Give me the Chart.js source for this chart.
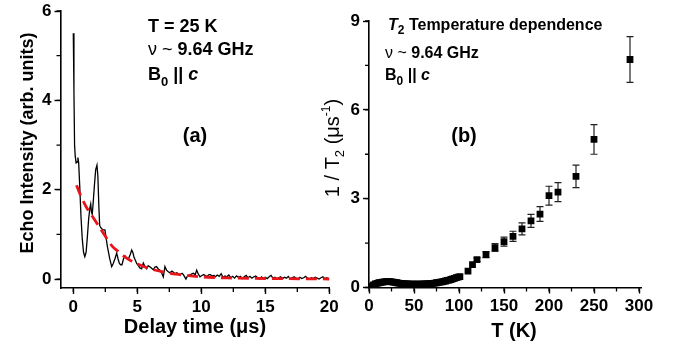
<!DOCTYPE html>
<html>
<head>
<meta charset="utf-8">
<script src="https://cdn.jsdelivr.net/npm/chart.js@4"></script>
<style>
  body { margin: 0; background: #fff; }
  #wrap { position: relative; width: 673px; height: 348px; background: #fff; overflow: hidden; }
  canvas { position: absolute; top: 0; }
</style>
</head>
<body>
<div id="wrap">
  <canvas id="chartA" width="340" height="348" style="left:0"></canvas>
  <canvas id="chartB" width="353" height="348" style="left:320px"></canvas>
</div>
<script>
// panel (a): echo decay at 25 K
const delayTime = [
  0.00, 0.05, 0.10, 0.15, 0.22, 0.30, 0.36, 0.42, 0.50, 0.60, 0.70, 0.80, 0.90, 1.00, 1.10, 1.20,
  1.30, 1.36, 1.42, 1.48, 1.55, 1.65, 1.75, 1.85, 1.92, 2.00, 2.06, 2.15, 2.25, 2.35, 2.47, 2.55,
  2.65, 2.75, 2.85, 3.00, 3.12, 3.26, 3.39, 3.50, 3.60, 3.70, 3.80, 3.92, 4.04, 4.17, 4.30, 4.45,
  4.56, 4.65, 4.75, 4.85, 4.95, 5.08, 5.20, 5.34, 5.47, 5.60, 5.73, 5.85, 6.00, 6.12, 6.25, 6.38,
  6.50, 6.65, 6.77, 6.90, 7.03, 7.16, 7.28, 7.40, 7.55, 7.70, 7.80, 7.95, 8.10, 8.20, 8.35, 8.50,
  8.60, 8.70, 8.80, 8.90, 9.00, 9.15, 9.30, 9.40, 9.52, 9.64, 9.75, 9.90, 10.05, 10.20, 10.30, 10.45,
  10.60, 10.70, 10.85, 11.00, 11.10, 11.25, 11.40, 11.55, 11.70, 11.85, 12.00, 12.15, 12.30, 12.45,
  12.60, 12.75, 12.90, 13.05, 13.20, 13.35, 13.50, 13.65, 13.80, 13.95, 14.10, 14.25, 14.40, 14.55,
  14.70, 14.85, 15.00, 15.15, 15.30, 15.45, 15.60, 15.75, 15.90, 16.05, 16.20, 16.35, 16.50, 16.65,
  16.80, 16.95, 17.10, 17.25, 17.40, 17.55, 17.70, 17.85, 18.00, 18.15, 18.30, 18.45, 18.60, 18.75,
  18.90, 19.05, 19.20, 19.35, 19.50, 19.65, 19.80, 19.95, 20.00
];
const echoSignal = [
  5.50, 4.20, 3.00, 2.75, 2.60, 2.62, 2.72, 2.60, 2.10, 1.40, 0.90, 0.60, 0.50, 0.60, 0.95, 1.35,
  1.60, 1.68, 1.50, 1.45, 1.70, 2.10, 2.45, 2.55, 2.30, 1.60, 1.20, 1.15, 1.12, 1.10, 1.10, 0.95,
  0.75, 0.60, 0.45, 0.28, 0.35, 0.46, 0.58, 0.45, 0.35, 0.32, 0.32, 0.45, 0.52, 0.46, 0.45, 0.55,
  0.65, 0.60, 0.48, 0.42, 0.35, 0.30, 0.25, 0.23, 0.36, 0.28, 0.23, 0.30, 0.27, 0.24, 0.21, 0.27,
  0.28, 0.22, 0.20, 0.14, 0.05, 0.28, 0.20, 0.17, 0.14, 0.18, 0.16, 0.12, 0.14, 0.12, 0.10, 0.13,
  0.10, 0.05, 0.00, 0.06, 0.08, 0.10, 0.12, 0.13, 0.09, 0.20, 0.12, 0.05, 0.08, 0.10, 0.08, 0.06,
  0.10, 0.10, 0.07, 0.08, 0.05, 0.09, 0.06, 0.12, 0.04, 0.07, 0.05, 0.09, 0.03, 0.06,
  0.02, 0.07, 0.04, 0.06, 0.01, 0.05, 0.08, 0.03, 0.06, 0.02, 0.05, 0.07, 0.03, 0.00,
  0.05, 0.02, 0.04, 0.01, 0.05, 0.08, 0.02, 0.04, 0.00, 0.03, 0.05, 0.01, 0.04, 0.02,
  0.06, 0.00, 0.03, 0.05, 0.02, 0.00, 0.04, 0.01, 0.03, 0.06, 0.02, 0.00, 0.03, 0.01,
  0.04, 0.02, 0.00, 0.03, 0.05, 0.01, 0.03, 0.00, 0.02
];
// red dashed fit curve
const fitTime  = [0.25, 0.6, 1.0, 1.5, 2.0, 2.5, 3.0, 3.5, 4.0, 4.5, 5.0, 5.5, 6.0, 7.0, 8.0, 9.0, 10, 11, 12, 14, 16, 18, 20];
const fitValue = [2.10, 1.85, 1.62, 1.40, 1.18, 0.96, 0.75, 0.62, 0.50, 0.41, 0.34, 0.28, 0.23, 0.16, 0.11, 0.075, 0.05, 0.035, 0.025, 0.015, 0.01, 0.005, 0.002];

// panel (b): 1/T2 vs temperature
const tempK = [
  3, 5, 7, 9, 11, 13, 15, 17, 19, 21, 23, 25, 27, 29, 31, 33, 35, 37, 39, 41, 43, 45, 47, 49, 51,
  53, 55, 57, 59, 61, 63, 65, 67, 69, 71, 73, 75, 77, 79, 81, 83, 85, 87, 89, 91, 93, 95, 97, 99, 101,
  110, 115, 120, 130, 140, 150, 160, 170, 180, 190, 200, 210, 230, 250, 290
];
const invT2 = [
  0.05, 0.09, 0.12, 0.14, 0.16, 0.17, 0.18, 0.19, 0.20, 0.20, 0.20, 0.19, 0.18, 0.17, 0.16, 0.15, 0.14, 0.13, 0.13, 0.12, 0.12, 0.11, 0.11, 0.11, 0.11,
  0.11, 0.11, 0.11, 0.11, 0.12, 0.12, 0.12, 0.13, 0.13, 0.14, 0.15, 0.16, 0.17, 0.18, 0.19, 0.21, 0.22, 0.24, 0.25, 0.27, 0.29, 0.31, 0.33, 0.35, 0.37,
  0.55, 0.77, 0.94, 1.11, 1.35, 1.55, 1.73, 1.98, 2.25, 2.48, 3.10, 3.22, 3.75, 5.00, 7.70
];
const invT2Err = [
  0, 0, 0, 0, 0, 0, 0, 0, 0, 0, 0, 0, 0, 0, 0, 0, 0, 0, 0, 0, 0, 0, 0, 0, 0,
  0, 0, 0, 0, 0, 0, 0, 0, 0, 0, 0, 0, 0, 0, 0, 0, 0, 0, 0, 0, 0, 0, 0, 0, 0,
  0, 0, 0.06, 0.10, 0.13, 0.15, 0.17, 0.20, 0.22, 0.25, 0.32, 0.32, 0.38, 0.50, 0.77
];

// tick values
const aXTicks = [0, 5, 10, 15, 20];
const aYTicks = [0, 2, 4, 6];
const bXTicks = [0, 50, 100, 150, 200, 250, 300];
const bYTicks = [0, 3, 6, 9];

const FONT = '"Liberation Sans", Arial, Helvetica, sans-serif';

function pts(xs, ys) {
  return xs.map((x, i) => ({ x: x, y: ys[i] }));
}

// draw a row of text pieces (sub/superscripts) centred at x,y
function drawParts(ctx, x, y, parts, rot, align) {
  ctx.save();
  ctx.translate(x, y);
  if (rot) ctx.rotate(rot);
  ctx.textBaseline = 'alphabetic';
  ctx.fillStyle = '#000';
  let total = 0;
  parts.forEach(p => { ctx.font = p.font; total += ctx.measureText(p.t).width; });
  let cx = align === 'left' ? 0 : -total / 2;
  parts.forEach(p => {
    ctx.font = p.font;
    ctx.fillText(p.t, cx, p.dy || 0);
    cx += ctx.measureText(p.t).width;
  });
  ctx.restore();
}

function minorTicks(chart, xStep, yStep) {
  const ctx = chart.ctx;
  const xs = chart.scales.x, ys = chart.scales.y;
  ctx.save();
  ctx.strokeStyle = '#000';
  ctx.lineWidth = 1.3;
  ctx.beginPath();
  for (let v = Math.ceil(xs.min / xStep) * xStep; v <= xs.max + 1e-9; v += xStep) {
    const px = xs.getPixelForValue(v);
    ctx.moveTo(px, ys.bottom);
    ctx.lineTo(px, ys.bottom + 4);
  }
  for (let v = Math.ceil(ys.min / yStep) * yStep; v <= ys.max + 1e-9; v += yStep) {
    const py = ys.getPixelForValue(v);
    ctx.moveTo(xs.left, py);
    ctx.lineTo(xs.left - 4, py);
  }
  ctx.stroke();
  ctx.restore();
}

function axisOpts(min, max, ticks, fixed, isX) {
  return {
    type: 'linear',
    min: min,
    max: max,
    afterBuildTicks: (axis) => { axis.ticks = ticks.map(v => ({ value: v })); },
    afterFit: (axis) => {
      if (isX) { axis.height = fixed; axis.paddingLeft = 0; axis.paddingRight = 0; }
      else { axis.width = fixed; axis.paddingTop = 0; axis.paddingBottom = 0; }
    },
    grid: { display: true, drawOnChartArea: false, drawTicks: true, tickLength: 6, tickWidth: 1.4, tickColor: '#000' },
    border: { display: true, color: '#000', width: 1.6 },
    ticks: { color: '#000', padding: isX ? 3 : 3, font: { family: FONT, size: 17, weight: 'bold' } }
  };
}

const textA = {
  id: 'textA',
  afterDraw(chart) {
    const ctx = chart.ctx;
    minorTicks(chart, 2.5, 1);
    const b18 = 'bold 18px ' + FONT;
    drawParts(ctx, 27, 143, [{ t: 'Echo Intensity (arb. units)', font: 'bold 18px ' + FONT, dy: 6 }], -Math.PI / 2);
    drawParts(ctx, 195, 333, [{ t: 'Delay time (\u03bcs)', font: 'bold 20px ' + FONT }]);
    drawParts(ctx, 148, 32, [{ t: 'T = 25 K', font: b18 }], 0, 'left');
    drawParts(ctx, 148, 55, [{ t: '\u03bd ~ ', font: '18px ' + FONT }, { t: '9.64 GHz', font: b18 }], 0, 'left');
    drawParts(ctx, 148, 80, [
      { t: 'B', font: b18 }, { t: '0', font: 'bold 13px ' + FONT, dy: 6 },
      { t: ' || ', font: b18 }, { t: 'c', font: 'italic bold 18px ' + FONT }
    ], 0, 'left');
    drawParts(ctx, 195, 142, [{ t: '(a)', font: 'bold 20px ' + FONT }]);
  }
};

const errorBars = {
  id: 'errorBars',
  beforeDatasetsDraw(chart) {
    const ctx = chart.ctx;
    const xs = chart.scales.x, ys = chart.scales.y;
    ctx.save();
    ctx.strokeStyle = '#222';
    ctx.lineWidth = 1.2;
    ctx.beginPath();
    tempK.forEach((t, i) => {
      const e = invT2Err[i];
      if (!e) return;
      const px = xs.getPixelForValue(t);
      const top = ys.getPixelForValue(invT2[i] + e);
      const bot = ys.getPixelForValue(invT2[i] - e);
      ctx.moveTo(px, top); ctx.lineTo(px, bot);
      ctx.moveTo(px - 3.5, top); ctx.lineTo(px + 3.5, top);
      ctx.moveTo(px - 3.5, bot); ctx.lineTo(px + 3.5, bot);
    });
    ctx.stroke();
    ctx.restore();
  }
};

const textB = {
  id: 'textB',
  afterDraw(chart) {
    const ctx = chart.ctx;
    minorTicks(chart, 25, 1.5);
    const b16 = 'bold 16px ' + FONT;
    // canvas sits 320px to the right
    drawParts(ctx, 19, 148, [
      { t: '1 / T', font: '20px ' + FONT },
      { t: '2', font: '13px ' + FONT, dy: 5 },
      { t: ' (\u03bcs', font: '20px ' + FONT },
      { t: '-1', font: '12px ' + FONT, dy: -9 },
      { t: ')', font: '20px ' + FONT }
    ], -Math.PI / 2);
    drawParts(ctx, 194, 337, [{ t: 'T (K)', font: 'bold 20px ' + FONT }]);
    drawParts(ctx, 68, 30, [
      { t: 'T', font: 'italic bold 16px ' + FONT },
      { t: '2', font: 'bold 12px ' + FONT, dy: 4 },
      { t: ' Temperature dependence', font: b16 }
    ], 0, 'left');
    drawParts(ctx, 65, 58, [{ t: '\u03bd ~ ', font: '16px ' + FONT }, { t: '9.64 GHz', font: b16 }], 0, 'left');
    drawParts(ctx, 65, 80, [
      { t: 'B', font: b16 }, { t: '0', font: 'bold 12px ' + FONT, dy: 5 },
      { t: ' || ', font: b16 }, { t: 'c', font: 'italic bold 16px ' + FONT }
    ], 0, 'left');
    drawParts(ctx, 144, 142, [{ t: '(b)', font: 'bold 20px ' + FONT }]);
  }
};

const chartA = new Chart(document.getElementById('chartA'), {
  type: 'line',
  plugins: [textA],
  data: {
    datasets: [
      {
        label: 'fit',
        data: pts(fitTime, fitValue),
        borderColor: '#e8141a',
        borderWidth: 2.8,
        borderDash: [11, 6],
        pointRadius: 0,
        cubicInterpolationMode: 'monotone',
        fill: false
      },
      {
        label: 'echo',
        data: pts(delayTime, echoSignal),
        borderColor: '#000',
        borderWidth: 1.3,
        pointRadius: 0,
        tension: 0,
        fill: false
      }
    ]
  },
  options: {
    responsive: false,
    animation: false,
    devicePixelRatio: 1,
    layout: { padding: { left: 0, top: 11, right: 10.7, bottom: 0 } },
    plugins: { legend: { display: false }, tooltip: { enabled: false } },
    scales: {
      x: axisOpts(-1, 20, aXTicks, 60, true),
      y: axisOpts(-0.2, 6, aYTicks, 60.5, false)
    }
  }
});

const chartB = new Chart(document.getElementById('chartB'), {
  type: 'line',
  plugins: [errorBars, textB],
  data: {
    datasets: [
      {
        label: '1/T2',
        data: pts(tempK, invT2),
        showLine: false,
        pointStyle: 'rect',
        pointRadius: 4.8,
        pointBackgroundColor: '#000',
        pointBorderColor: '#000',
        pointBorderWidth: 0
      }
    ]
  },
  options: {
    responsive: false,
    animation: false,
    devicePixelRatio: 1,
    layout: { padding: { left: 0, top: 21, right: 31.3, bottom: 0 } },
    plugins: { legend: { display: false }, tooltip: { enabled: false } },
    scales: {
      x: axisOpts(0, 303, bXTicks, 60.5, true),
      y: axisOpts(0, 9, bYTicks, 49, false)
    }
  }
});
</script>
</body>
</html>
